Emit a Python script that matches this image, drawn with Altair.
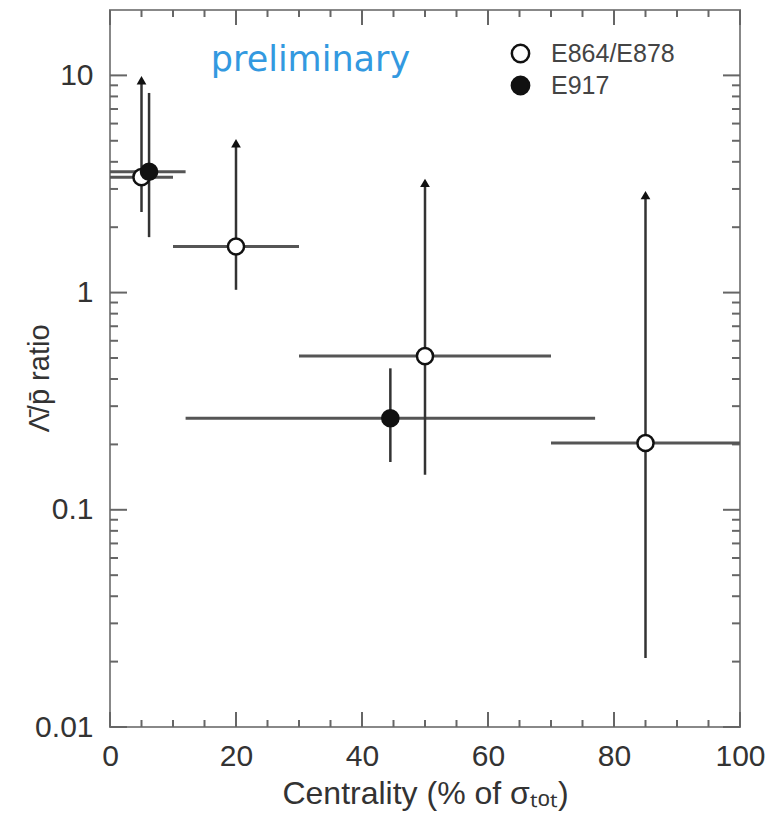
import altair as alt
import pandas as pd

# ---- data ----
series_names = ["E864/E878", "E917"]

open_x = [5, 20, 50, 85]
open_y = [3.4, 1.63, 0.51, 0.203]
open_xlo = [0, 10, 30, 70]
open_xhi = [10, 30, 70, 100]
open_ylo = [2.35, 1.03, 0.145, 0.0208]
open_yhi = [9.5, 4.87, 3.2, 2.81]

filled_x = [6.2, 44.5]
filled_y = [3.6, 0.264]
filled_xlo = [0, 12]
filled_xhi = [12, 77]
filled_ylo = [1.8, 0.166]
filled_yhi = [8.3, 0.448]

x_major = [0, 20, 40, 60, 80, 100]
x_minor = [5, 10, 15, 25, 30, 35, 45, 50, 55, 65, 70, 75, 85, 90, 95]
y_major = [0.01, 0.1, 1, 10]
y_minor = [m * d for d in [0.01, 0.1, 1, 10] for m in range(2, 10)]
y_minor = [v for v in y_minor if v < 20]

note_x = [16]
note_y = [10.5]
note_text = ["preliminary"]

W, H = 630, 717

pts = pd.DataFrame({
    "series": [series_names[0]] * len(open_x) + [series_names[1]] * len(filled_x),
    "x": open_x + filled_x,
    "y": open_y + filled_y,
    "xlo": open_xlo + filled_xlo,
    "xhi": open_xhi + filled_xhi,
    "ylo": open_ylo + filled_ylo,
    "yhi": open_yhi + filled_yhi,
    "arrow": [True] * len(open_x) + [False] * len(filled_x),
})
arrows = pts[pts["arrow"]]

xs = alt.Scale(domain=[0, 100], nice=False, zero=False)
ys = alt.Scale(type="log", domain=[0.01, 20], nice=False)

xax = alt.Axis(values=x_major, ticks=False, domain=False, grid=False, labelPadding=14,
               labelFlush=False,
               labelFont="Liberation Sans", labelFontSize=30, labelColor="#333333",
               title="Centrality (% of σₜₒₜ)", titleX=315, titleY=76,
               titleFont="Liberation Sans", titleFontSize=32, titleColor="#333333",
               titleFontWeight="normal",
               titleBaseline="alphabetic", titleAnchor="middle")
yax = alt.Axis(values=y_major, format="~g", ticks=False, domain=False, grid=False,
               labelPadding=17, labelFlush=False, labelFont="Liberation Sans",
               labelFontSize=30, labelColor="#333333",
               title="Λ̄/p̄ ratio", titleX=-62, titleY=368,
               titleFont="Liberation Sans", titleFontSize=29, titleColor="#333333",
               titleFontWeight="normal",
               titleBaseline="alphabetic", titleAngle=-90, titleAnchor="middle")

X = alt.X("x:Q", scale=xs, axis=xax)
Y = alt.Y("y:Q", scale=ys, axis=yax)

hbars = alt.Chart(pts).mark_rule(color="#555555", strokeWidth=3).encode(
    x=alt.X("xlo:Q", scale=xs, axis=xax), x2="xhi:Q", y=Y)
vbars = alt.Chart(pts).mark_rule(color="#333333", strokeWidth=2.5).encode(
    x=X, y=alt.Y("ylo:Q", scale=ys, axis=yax), y2="yhi:Q")
arrow_marks = alt.Chart(arrows).mark_point(
    shape="triangle-up", filled=True, color="#111111", size=95, opacity=1).encode(
    x=X, y=alt.Y("yhi:Q", scale=ys, axis=yax))
points = alt.Chart(pts).mark_point(
    shape="circle", filled=True, stroke="#111111", strokeWidth=2.5, size=260, opacity=1
).encode(
    x=X, y=Y,
    fill=alt.Fill("series:N",
                  scale=alt.Scale(domain=series_names, range=["white", "#111111"]),
                  legend=alt.Legend(title=None, orient="none", legendX=398, legendY=31,
                                    padding=0, symbolType="circle", symbolSize=300,
                                    symbolStrokeColor="#111111", symbolStrokeWidth=2.5,
                                    symbolOpacity=1, labelFont="Liberation Sans",
                                    labelFontSize=25, labelColor="#444444",
                                    labelOffset=18, rowPadding=3)))

note = alt.Chart(pd.DataFrame({"x": note_x, "y": note_y, "t": note_text})).mark_text(
    font="DejaVu Sans", fontSize=35, color="#3399e0", align="left", baseline="alphabetic"
).encode(x=X, y=Y, text="t:N")

def xticks(vals, length):
    d = pd.DataFrame({"x": vals})
    bottom = alt.Chart(d).mark_rule(color="#666666", strokeWidth=2).encode(
        x=X, y=alt.value(H), y2=alt.value(H - length))
    top = alt.Chart(d).mark_rule(color="#666666", strokeWidth=2).encode(
        x=X, y=alt.value(0), y2=alt.value(length))
    return [bottom, top]

def yticks(vals, length):
    d = pd.DataFrame({"y": vals})
    left = alt.Chart(d).mark_rule(color="#666666", strokeWidth=2).encode(
        y=Y, x=alt.value(0), x2=alt.value(length))
    right = alt.Chart(d).mark_rule(color="#666666", strokeWidth=2).encode(
        y=Y, x=alt.value(W), x2=alt.value(W - length))
    return [left, right]

tick_layers = xticks(x_major, 15) + xticks(x_minor, 7) + yticks(y_major, 17) + yticks(y_minor, 8)

chart = alt.layer(
    *tick_layers, hbars, vbars, arrow_marks, points, note
).properties(
    width=W, height=H,
    background="white",
    autosize=alt.AutoSizeParams(type="none"),
    padding={"left": 110, "top": 10, "right": 26, "bottom": 90},
).configure_view(
    stroke="#888888", strokeWidth=2
)

chart.save("out.html", embed_options={"renderer": "svg", "actions": False})
